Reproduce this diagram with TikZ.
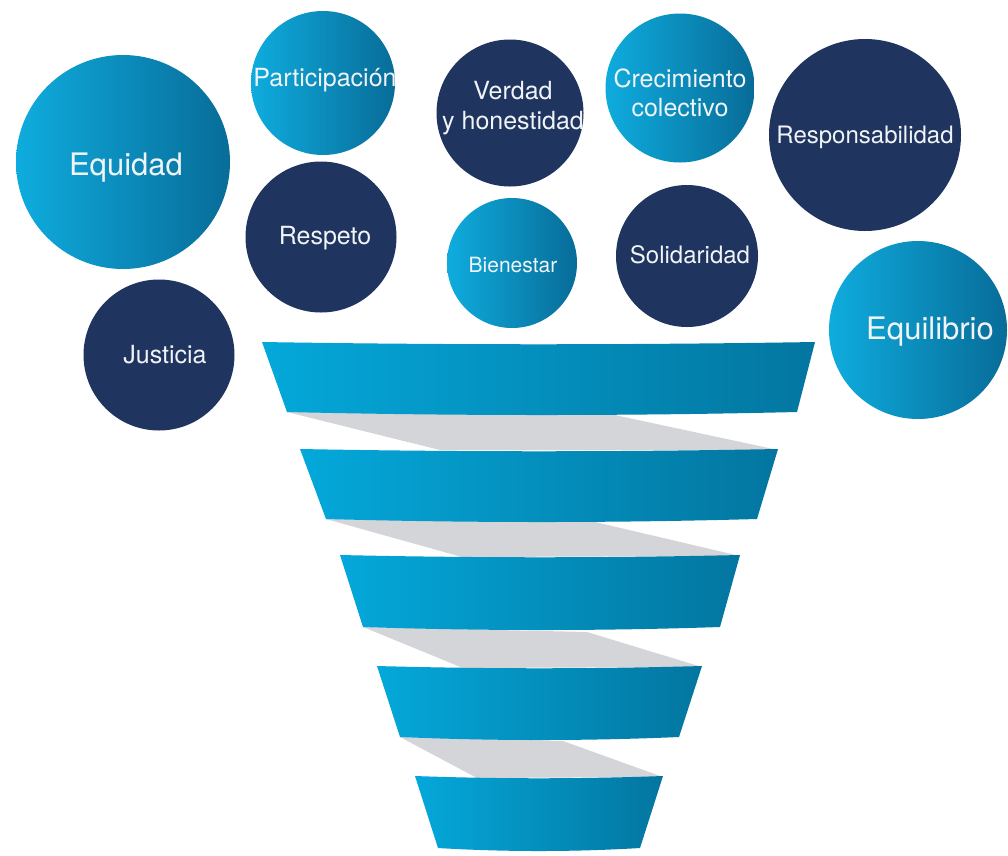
\documentclass[tikz,border=0pt]{standalone}
\usepackage{fontspec}
\setmainfont{TeX Gyre Heros}
\definecolor{ballL}{RGB}{14,172,222}
\definecolor{ballD}{RGB}{8,108,152}
\definecolor{navy}{RGB}{31,52,94}
\definecolor{bandL}{RGB}{4,168,218}
\definecolor{bandD}{RGB}{3,118,160}
\definecolor{ribbongray}{RGB}{212,213,216}
\definecolor{txt}{RGB}{240,244,247}
\begin{document}
\begin{tikzpicture}[x=1pt,y=-1pt,
  lightball/.style={circle, inner sep=0pt, draw=none, left color=ballL, right color=ballD},
  darkball/.style={circle, inner sep=0pt, draw=none, fill=navy},
  lbl/.style={text=txt, align=center, inner sep=0pt, font=\fontsize{25}{29.5}\selectfont},
  biglbl/.style={lbl, font=\fontsize{31}{35}\selectfont},
  band/.style={left color=bandL, right color=bandD, draw=none},
  ribbon/.style={fill=ribbongray, draw=none}]
\useasboundingbox (0,0) rectangle (1008,855);
\fill[white] (0,0) rectangle (1008,855);

% ---- ribbons (behind bands)
\fill[ribbon] (287,412) -- (610,414) -- (778,450) -- (440,450) -- cycle;
\fill[ribbon] (326,519) -- (595,522) -- (740,556) -- (462,557) -- cycle;
\fill[ribbon] (363,627) -- (587,632) -- (702,667) -- (463,668) -- cycle;
\fill[ribbon] (400,737) -- (563,741) -- (663,777) -- (477,778) -- cycle;

% ---- bands
\shade[band] (262,342) .. controls (446,345) and (631,345) .. (815,342)
  -- (797,412) .. controls (627,416) and (457,416) .. (287,412) -- cycle;
\shade[band] (300,449) .. controls (459,452) and (619,452) .. (778,449)
  -- (757,519) .. controls (613,523) and (470,523) .. (326,519) -- cycle;
\shade[band] (340,555) .. controls (473,558) and (607,558) .. (740,555)
  -- (720,627) .. controls (601,631) and (482,631) .. (363,627) -- cycle;
\shade[band] (377,666) .. controls (485,669) and (594,669) .. (702,666)
  -- (679,737) .. controls (586,741) and (493,741) .. (400,737) -- cycle;
\shade[band] (415,776) .. controls (498,779) and (580,779) .. (663,776)
  -- (640,848) .. controls (573,852) and (505,852) .. (438,848) -- cycle;

% ---- circles
\node[lightball, minimum size=214pt] (equidad) at (123,162) {};
\node[lightball, minimum size=144pt] (particip) at (323,83) {};
\node[darkball, minimum size=151pt] (respeto) at (321,237) {};
\node[darkball, minimum size=151pt] (justicia) at (159,355) {};
\node[darkball, minimum size=147pt] (verdad) at (510,113) {};
\node[lightball, minimum size=149pt] (crec) at (680,88) {};
\node[darkball, minimum size=192pt] (respons) at (865,135) {};
\node[lightball, minimum size=130pt] (bienestar) at (512,263) {};
\node[darkball, minimum size=142pt] (solid) at (687,256) {};
\node[lightball, minimum size=178pt] (equil) at (918,330) {};

% ---- labels
\node[biglbl] (tequidad) at ([shift={(3,6)}]equidad.center) {Equidad};
\node[lbl] (tparticip) at ([shift={(2,-3)}]particip.center) {Participación};
\node[lbl] (trespeto) at ([shift={(4,1)}]respeto.center) {Respeto};
\node[lbl] (tjusticia) at ([shift={(6,0)}]justicia.center) {Justicia};
\node[lbl] (tverdad) at ([shift={(3,-5)}]verdad.center) {Verdad\\y honestidad};
\node[lbl] (tcrec) at ([shift={(0,5)}]crec.center) {Crecimiento\\colectivo};
\node[lbl, font=\fontsize{24}{28}\selectfont] (trespons) at ([shift={(0,2)}]respons.center) {Responsabilidad};
\node[lbl, font=\fontsize{21}{25}\selectfont] (tbienestar) at ([shift={(1,2)}]bienestar.center) {Bienestar};
\node[lbl, font=\fontsize{24}{28}\selectfont] (tsolid) at ([shift={(3,-1)}]solid.center) {Solidaridad};
\node[biglbl] (tequil) at ([shift={(12,2)}]equil.center) {Equilibrio};
\end{tikzpicture}
\end{document}
